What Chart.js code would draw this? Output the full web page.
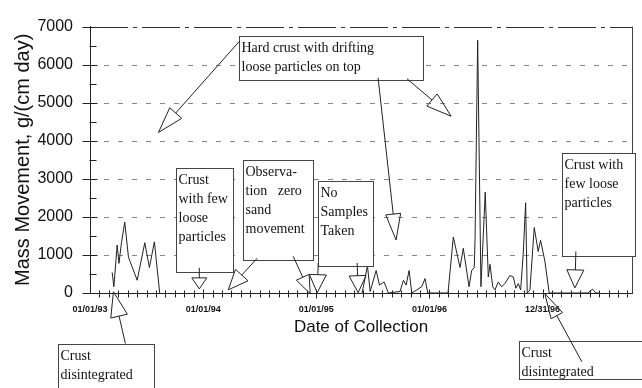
<!DOCTYPE html>
<html>
<head>
<meta charset="utf-8">
<script src="https://cdn.jsdelivr.net/npm/chart.js@4.4.1/dist/chart.umd.min.js"></script>
<style>
  html, body { margin: 0; padding: 0; background: #fff; }
</style>
</head>
<body>
<canvas id="mass-chart" width="642" height="388"></canvas>
<script>
// collection dates as decimal years; null = stretch with no samples
const sampleDates = [
  1993.196, 1993.211, 1993.240, 1993.256, 1993.278, 1993.307, 1993.340, 1993.417, 1993.484, 1993.525, 1993.569, 1993.616,
  1994.500,
  1995.405, 1995.452, 1995.476, 1995.529, 1995.558, 1995.599, 1995.637, 1995.740, 1995.770, 1995.794, 1995.820, 1995.844, 1995.932, 1995.961, 1995.985,
  1996.164, 1996.211, 1996.270, 1996.299, 1996.350, 1996.373, 1996.396, 1996.403, 1996.426, 1996.455, 1996.493, 1996.520,
  1996.535, 1996.559, 1996.579, 1996.608, 1996.638, 1996.667, 1996.711, 1996.741, 1996.764, 1996.785, 1996.806, 1996.829,
  1996.850, 1996.864, 1996.888, 1996.926, 1996.961, 1996.982, 1997.020, 1997.058,
  1997.400, 1997.441, 1997.470, 1997.506
];
const massMovement = [
  540, 165, 1260, 780, 1320, 1860, 940, 335, 1320, 670, 1345, 0,
  null,
  0, 715, 40, 590, 210, 290, 0, 40, 335, 210, 590, 0, 165, 380, 0,
  0, 1470, 670, 1175, 165, 590, 670, 1425, 6640, 165, 2650, 420,
  755, 165, 80, 290, 165, 250, 460, 420, 125, 250, 80, 1050,
  2370, 0, 80, 1720, 1090, 1385, 840, 0,
  0, 100, 0, 0
];
const yearTicks = [1993, 1994, 1995, 1996, 1997];
const yearLabels = ['01/01/93', '01/01/94', '01/01/95', '01/01/96', '12/31/96'];
const valueTicks = [0, 1000, 2000, 3000, 4000, 5000, 6000, 7000];

// text boxes: top-left corner in data units, size in px
const calloutBoxes = [
  { x: 1994.320, y: 6764, w: 184, h: 44, lines: ['Hard crust with drifting', 'loose particles on top'] },
  { x: 1993.763, y: 3285, w: 57, h: 104, lines: ['Crust', 'with few', 'loose', 'particles'] },
  { x: 1994.355, y: 3487, w: 70, h: 100, lines: ['Observa-', 'tion   zero', 'sand', 'movement'] },
  { x: 1995.017, y: 2932, w: 55, h: 85, lines: ['No', 'Samples', 'Taken'] },
  { x: 1997.170, y: 3688, w: 73, h: 103, lines: ['Crust with', 'few loose', 'particles'] },
  { x: 1992.713, y: -1329, w: 96, h: 50, lines: ['Crust', 'disintegrated'] },
  { x: 1996.791, y: -1253, w: 130, h: 38, lines: ['Crust', 'disintegrated'] }
];
// arrows: tail and tip in data units, head length/width in px
const calloutArrows = [
  { from: [1994.320, 6613], to: [1993.605, 4218], head: 26, wide: 16 },
  { from: [1995.546, 5655], to: [1995.705, 1394], head: 26, wide: 15 },
  { from: [1995.802, 5629], to: [1996.191, 4646], head: 25, wide: 16 },
  { from: [1993.966, 663], to: [1993.966, 108], head: 11, wide: 15 },
  { from: [1994.478, 915], to: [1994.222, 83], head: 20, wide: 17 },
  { from: [1994.796, 966], to: [1994.946, -18], head: 18, wide: 14 },
  { from: [1995.017, 789], to: [1995.008, 8], head: 18, wide: 17 },
  { from: [1995.361, 789], to: [1995.370, 8], head: 17, wide: 17 },
  { from: [1997.294, 1092], to: [1997.285, 134], head: 18, wide: 17 },
  { from: [1993.313, -1329], to: [1993.207, 33], head: 25, wide: 17 },
  { from: [1997.347, -1808], to: [1997.020, -18], head: 25, wide: 13 }
];

const points = sampleDates.map((d, i) => ({ x: d, y: massMovement[i] }));

const decor = {
  id: 'decor',
  beforeDatasetsDraw(chart) {
    const { ctx, chartArea: a, scales: { y } } = chart;
    ctx.save();
    ctx.lineWidth = 1;
    valueTicks.forEach(v => {
      if (v === 0) return;
      const py = Math.round(y.getPixelForValue(v)) + 0.5;
      ctx.strokeStyle = v === 7000 ? '#333' : '#888';
      ctx.setLineDash(v === 7000 ? [38, 5, 4, 5] : [5, 9]);
      ctx.beginPath();
      ctx.moveTo(a.left, py);
      ctx.lineTo(a.right, py);
      ctx.stroke();
    });
    ctx.setLineDash([]);
    ctx.strokeStyle = '#444';
    ctx.beginPath();
    ctx.moveTo(a.right + 0.5, a.top);
    ctx.lineTo(a.right + 0.5, a.bottom);
    ctx.stroke();
    ctx.restore();
  },
  afterDraw(chart) {
    const { ctx, chartArea: a, scales: { x, y } } = chart;
    const ax = a.left + 0.5, ay = Math.round(y.getPixelForValue(0)) + 0.5;
    ctx.save();
    ctx.lineWidth = 1;
    ctx.strokeStyle = '#222';
    // y tick marks, major cross the axis, minor at the halves
    valueTicks.forEach(v => {
      const py = Math.round(y.getPixelForValue(v)) + 0.5;
      ctx.beginPath(); ctx.moveTo(ax - 8, py); ctx.lineTo(ax + 7, py); ctx.stroke();
      if (v < 7000) {
        const pm = Math.round(y.getPixelForValue(v + 500)) + 0.5;
        ctx.beginPath(); ctx.moveTo(ax - 1, pm); ctx.lineTo(ax + 6, pm); ctx.stroke();
      }
    });
    // x tick marks, monthly
    for (let m = 1; 1993 + m / 12 <= x.max; m++) {
      const px = Math.round(x.getPixelForValue(1993 + m / 12)) + 0.5;
      const big = m % 12 === 0;
      ctx.beginPath(); ctx.moveTo(px, ay - (big ? 4 : 3)); ctx.lineTo(px, ay + (big ? 5 : 4)); ctx.stroke();
    }
    // callout boxes
    ctx.font = '14px "Liberation Serif", "Times New Roman", serif';
    ctx.textBaseline = 'middle';
    calloutBoxes.forEach(b => {
      const bx = Math.round(x.getPixelForValue(b.x)) + 0.5;
      const by = Math.round(y.getPixelForValue(b.y)) + 0.5;
      ctx.fillStyle = '#fff';
      ctx.fillRect(bx, by, b.w, b.h);
      ctx.strokeStyle = '#444';
      ctx.strokeRect(bx, by, b.w, b.h);
      ctx.fillStyle = '#111';
      b.lines.forEach((t, i) => ctx.fillText(t, bx + 2, by + 12 + i * 19));
    });
    // arrows with hollow heads
    ctx.strokeStyle = '#222';
    calloutArrows.forEach(r => {
      const x1 = x.getPixelForValue(r.from[0]), y1 = y.getPixelForValue(r.from[1]);
      const x2 = x.getPixelForValue(r.to[0]), y2 = y.getPixelForValue(r.to[1]);
      const d = Math.hypot(x2 - x1, y2 - y1);
      const ux = (x2 - x1) / d, uy = (y2 - y1) / d;
      const bx = x2 - ux * r.head, by = y2 - uy * r.head;
      const nx = -uy * r.wide / 2, ny = ux * r.wide / 2;
      ctx.beginPath(); ctx.moveTo(x1, y1); ctx.lineTo(bx, by); ctx.stroke();
      ctx.beginPath();
      ctx.moveTo(x2, y2);
      ctx.lineTo(bx + nx, by + ny);
      ctx.lineTo(bx - nx, by - ny);
      ctx.closePath();
      ctx.stroke();
    });
    ctx.restore();
  }
};

new Chart(document.getElementById('mass-chart'), {
  type: 'line',
  data: {
    datasets: [{
      label: 'Mass Movement',
      data: points,
      borderColor: '#222',
      borderWidth: 1,
      pointRadius: 0,
      tension: 0,
      spanGaps: false
    }]
  },
  options: {
    responsive: false,
    animation: false,
    devicePixelRatio: 1,
    layout: { padding: { top: 16, right: 10, left: 0, bottom: 0 } },
    plugins: { legend: { display: false }, tooltip: { enabled: false } },
    scales: {
      x: {
        type: 'linear',
        min: 1993,
        max: 1997.79,
        afterFit: s => { s.height = 95; },
        afterBuildTicks: s => { s.ticks = yearTicks.map(v => ({ value: v })); },
        grid: { display: false, drawTicks: false },
        border: { display: true, color: '#222', width: 1 },
        ticks: {
          autoSkip: false,
          maxRotation: 0,
          padding: 11,
          color: '#111',
          font: { family: '"Liberation Sans", Arial', size: 9, weight: 'bold' },
          callback: v => yearLabels[yearTicks.indexOf(v)]
        },
        title: {
          display: true,
          text: 'Date of Collection',
          color: '#111',
          font: { family: '"Liberation Sans", Arial', size: 17 },
          padding: { top: 0, bottom: 50 }
        }
      },
      y: {
        min: 0,
        max: 7000,
        afterFit: s => { s.width = 90; },
        afterBuildTicks: s => { s.ticks = valueTicks.map(v => ({ value: v })); },
        grid: { display: false, drawTicks: false },
        border: { display: true, color: '#222', width: 1 },
        ticks: {
          padding: 17,
          color: '#111',
          font: { family: '"Liberation Sans", Arial', size: 16 },
          callback: v => String(v)
        },
        title: {
          display: true,
          text: 'Mass Movement, g/(cm day)',
          color: '#111',
          font: { family: '"Liberation Sans", Arial', size: 20 },
          padding: { top: 11, bottom: 0 }
        }
      }
    }
  },
  plugins: [decor]
});
</script>
</body>
</html>
